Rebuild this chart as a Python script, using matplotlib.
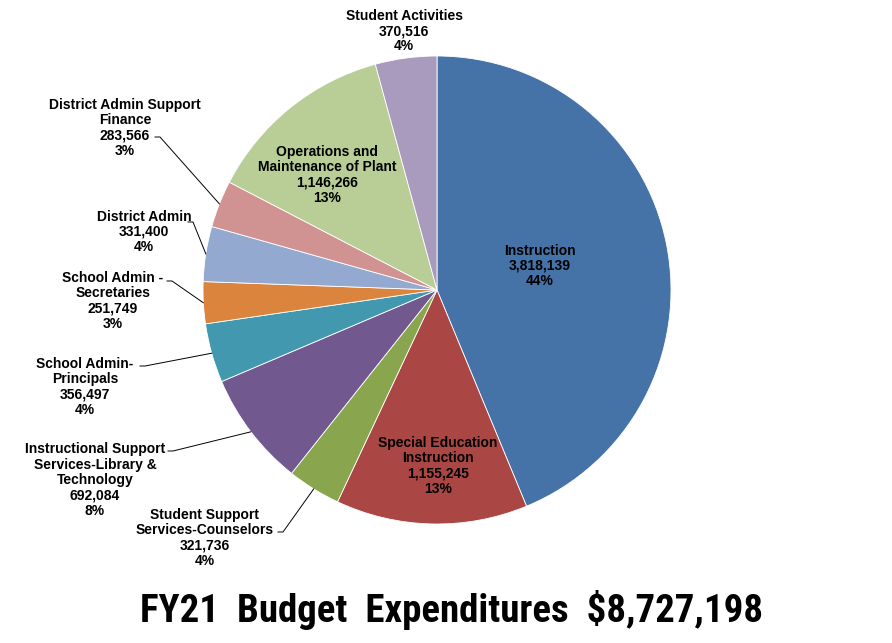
import numpy as np
import matplotlib
matplotlib.use("Agg")
import matplotlib.pyplot as plt

# budget categories, clockwise from 12 o'clock
categories = [
    "Instruction",
    "Special Education\nInstruction",
    "Student Support\nServices-Counselors",
    "Instructional Support\nServices-Library &\nTechnology",
    "School Admin-\nPrincipals",
    "School Admin -\nSecretaries",
    "District Admin",
    "District Admin Support\nFinance",
    "Operations and\nMaintenance of Plant",
    "Student Activities",
]
amounts = [3818139, 1155245, 321736, 692084, 356497,
           251749, 331400, 283566, 1146266, 370516]
colors = ["#4572A7", "#AA4643", "#89A54E", "#71588F", "#4198AF",
          "#DB843D", "#93A9CF", "#D19392", "#B9CD96", "#A99BBD"]

# label centres in pixels (x, y from top)
label_pos = [(540, 266), (438, 466), (205, 538), (95, 480), (85, 387),
             (113, 301), (144, 232), (125, 128), (327, 175), (404, 31)]
leader_anchor = {2: (278, 532), 3: (168, 451), 4: (140, 366),
                 5: (167, 281), 6: (188, 222), 7: (155, 137)}

W, H = 892, 643
cx, cy, R = 437, 290, 234

fig = plt.figure(figsize=(W / 100, H / 100), dpi=100)
ax = fig.add_axes([0, 0, 1, 1])
ax.axis("off")

wedges, _ = ax.pie(amounts, colors=colors, startangle=90, counterclock=False,
                   center=(cx, H - cy), radius=R,
                   wedgeprops=dict(linewidth=0.6, edgecolor="white"))
ax.set_xlim(0, W)
ax.set_ylim(0, H)

total = sum(amounts)
for i, (name, amt) in enumerate(zip(categories, amounts)):
    pct = round(100 * amt / total)
    txt = f"{name}\n{amt:,}\n{pct}%"
    lx, ly = label_pos[i]
    ax.text(lx, H - ly, txt, ha="center", va="center", fontsize=10,
            fontweight="bold", family=["Liberation Sans", "DejaVu Sans"],
            linespacing=1.12, color="black")
    if i in leader_anchor:
        w = wedges[i]
        mid = np.deg2rad((w.theta1 + w.theta2) / 2)
        ex = cx + R * np.cos(mid)
        ey = (H - cy) + R * np.sin(mid)
        ax_, ay_ = leader_anchor[i]
        ax.plot([ax_, ax_ + 5, ex], [H - ay_, H - ay_, ey],
                color="black", lw=0.7)

fig.text(452 / W, 1 - 610 / H, "FY21  Budget  Expenditures  $8,727,198",
         ha="center", va="center", fontsize=28, fontweight="bold",
         family=["Roboto Condensed", "Liberation Sans"])

fig.savefig("out.png", dpi=100, facecolor="white")
